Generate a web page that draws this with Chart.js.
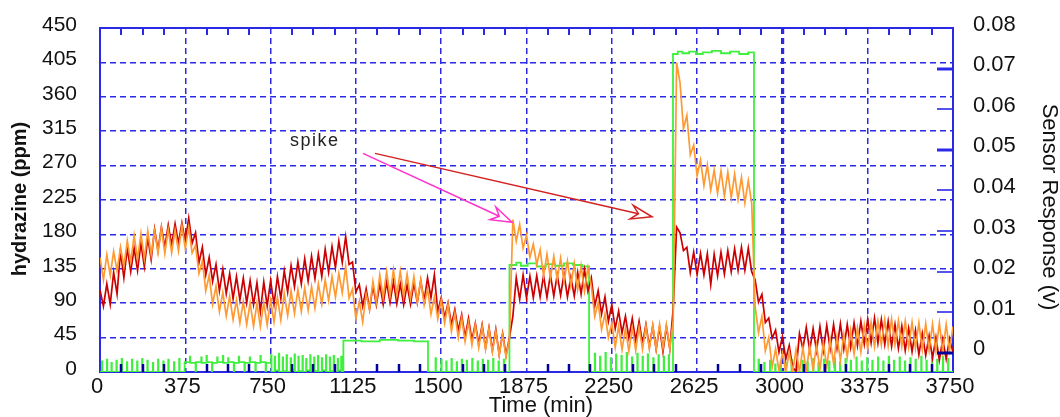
<!DOCTYPE html>
<html>
<head>
<meta charset="utf-8">
<script src="https://cdn.jsdelivr.net/npm/chart.js@4.4.1/dist/chart.umd.min.js"></script>
<style>
  html, body { margin: 0; padding: 0; background: #fff; }
  #wrap { width: 1060px; height: 417px; }
</style>
</head>
<body>
<div id="wrap"><canvas id="chart" width="1060" height="417"></canvas></div>
<script>
// sensor outputs are logged every 15 minutes, values in mV
const sampleStep = 15;

// red trace
const responseSensor1 = [
  15.5, 11.5, 17, 12, 19.8, 14.5, 25, 18.5, 25.8, 20,
  25.8, 20.3, 27, 21.2, 28.4, 23, 30.5, 25.2, 31, 26,
  31.5, 26.6, 31.8, 27, 32, 27.4, 33.2, 27, 29.6, 22.2,
  26, 19.2, 23.5, 17.6, 21.8, 15.3, 20.6, 14.6, 19.5, 13.3,
  18.8, 13, 18.4, 12.3, 17.8, 11.9, 17.3, 10.2, 17.5, 11.6,
  17.8, 12, 18.8, 13.4, 20.2, 15, 21.5, 16.3, 22.4, 17,
  23.2, 17.7, 23.8, 18.3, 24.3, 18.8, 25.5, 19.9, 26.2, 21,
  27.5, 22.3, 28.6, 21.8, 22.4, 15, 16.8, 11.5, 15.8, 10.8,
  16.5, 11.8, 17, 12, 17.5, 12.4, 17.6, 12.1, 17, 11.9,
  16.8, 12, 17.2, 12.4, 17.8, 12.8, 18.5, 13.6, 19.2, 10.2,
  13.6, 8.6, 12.3, 6.9, 10.7, 5.5, 9.4, 3.8, 8.5, 3.1,
  7.3, 2.2, 6.9, 1.2, 6.2, 0.6, 5.8, -0.4, 4.8, -0.6,
  3.8, 9, 18.5, 13.2, 19.2, 13.5, 18.9, 13.6, 19, 13.8,
  19, 13.7, 19.3, 14, 19.2, 14.2, 19.4, 13.8, 18.7, 14,
  19.8, 14.5, 20.5, 15.2, 18.5, 11.5, 15.3, 9.6, 13.8, 7.8,
  11.8, 6, 10.3, 4.9, 9, 3.7, 8.5, 3, 7.8, 2.3,
  7, 1.5, 6.6, 0.9, 6.4, 0.3, 6.5, 1, 11, 31,
  29.6, 25.2, 26, 19.8, 24.8, 19.3, 24.5, 19.2, 24.4, 16.8,
  24.3, 19, 24.8, 19.4, 25.2, 20, 25.6, 20.3, 26, 20.4,
  25.8, 20, 18, 12.5, 14.4, 7.5, 8.6, 3.6, 5.6, 0.2,
  4, -1.5, 1.8, -3.6, -4.5, 4.8, 1, 6.3, 0.6, 6,
  0.5, 6.5, 0.6, 6.8, 1, 7, 1.1, 7.2, 1, 7,
  1.4, 7.4, 1.8, 7.8, 2.2, 8.3, 2.5, 8.6, 2.4, 8.2,
  2.1, 7.8, 1.6, 7, 1.1, 6.6, 0.6, 6, 0.3, 5.6,
  -0.4, 4.8, -0.6, 4.2, -1.3, 3.8, -1.8, 3.4, -1.5, 3.5, 0.2
];

// orange trace
const responseSensor2 = [
  23.5, 18, 24.2, 19.1, 25, 20.2, 26, 21.3, 27.6, 22.4,
  28.9, 23, 29.4, 23.2, 30, 24.1, 30.1, 24.6, 30.8, 24.5,
  30.4, 24.7, 30.2, 25.1, 31.3, 25.6, 30.9, 24.6, 26.5, 19.6,
  22.6, 15.3, 19.1, 12, 16.4, 10.2, 14.9, 9.1, 13.9, 8.2,
  13, 7.4, 12.6, 7, 12.3, 6.6, 12.2, 6.5, 12.4, 6.9,
  12.9, 7.6, 13.7, 8.1, 14.6, 9.2, 15.2, 9.7, 15.6, 10.2,
  16, 10.5, 16.3, 11, 17, 12, 18, 12.9, 18.8, 13.7,
  19.6, 14.8, 21.3, 13.5, 15.7, 8.4, 12.7, 7.6, 14.5, 10.7,
  17.6, 12.4, 19.2, 13.6, 20, 14, 20.5, 14.3, 20.2, 13.9,
  19.4, 13.4, 18.8, 12.6, 18, 11.8, 15.8, 9.5, 13.8, 8.4,
  13, 7.3, 11.9, 5.3, 9.8, 3.8, 8.6, 2.8, 7.5, 1.9,
  6.9, 1.3, 6.5, 0.9, 6, 0.2, 5.4, -0.6, 4.6, -1.1,
  3.5, 32.8, 27.5, 31.6, 25.8, 29, 23.5, 26.8, 21.8, 25.4,
  19, 24.3, 18.4, 23.8, 18, 23.4, 17.6, 22.6, 16.5, 22,
  15.6, 21.4, 15.2, 21, 16.5, 9, 12.4, 5.8, 9.6, 3.8,
  7.3, 1.4, 6.6, 0.8, 6, 0.4, 6.2, 0.6, 6.4, 0.9,
  6.6, 1, 6.8, 0.9, 7, 1.2, 6.9, 1, 8, 71.5,
  66.5, 55.2, 58.5, 48.8, 51.2, 43.6, 47.5, 41.2, 46.3, 40.1,
  45, 39.3, 44.8, 38.6, 44.5, 38.2, 44, 37.8, 43.2, 36.9,
  42.4, 36.8, 11.5, 5, 9, 0.5, 3.8, -3.5, 1, -4.5,
  0, -4.7, 0.2, -4.7, 0.8, -4.7, 1.3, -4.5, 1.7, -4.2,
  2, -4.1, 2.5, -3.4, 3.2, -2.6, 4, -1.8, 4.6, -1,
  5.6, -0.3, 6.1, 0.2, 6.8, 1, 7.5, 1.5, 7.8, 2,
  8.2, 1.8, 8.3, 2, 7.9, 1.6, 7.8, 1.4, 7.5, 1.2,
  7.4, 0.8, 7.2, 0.7, 7.1, 0.5, 7.3, 0.4, 7, 0.6, 6.5
];

// hydrazine feed: [minute, ppm] change points, held until the next one
const hydrazineSteps = [
  [0, 0], [8, 14], [10, 0], [30, 16], [32, 0], [50, 12], [52, 0], [72, 15], [74, 0],
  [95, 17], [97, 0], [118, 13], [120, 0], [140, 16], [142, 0], [163, 14], [165, 0],
  [185, 17], [187, 0], [208, 15], [210, 0], [232, 12], [234, 0], [255, 16], [257, 0],
  [278, 14], [280, 0], [300, 16], [302, 0], [325, 13], [327, 0], [348, 17], [350, 0],
  [372, 13], [395, 20], [397, 12], [420, 0], [422, 13], [445, 19], [447, 12], [468, 21],
  [470, 13], [492, 0], [494, 12], [515, 19], [517, 13], [540, 21], [542, 12], [563, 18],
  [565, 13], [588, 0], [590, 12], [610, 20], [612, 13], [635, 0], [637, 12], [658, 19],
  [660, 13], [683, 0], [685, 12], [705, 21], [707, 13], [728, 0], [730, 12],
  [752, 22], [754, 0], [768, 20], [770, 2], [786, 24], [788, 0], [803, 19], [805, 1],
  [820, 22], [822, 0], [838, 18], [840, 3], [855, 23], [857, 0], [872, 20], [874, 1],
  [890, 21], [892, 0], [906, 17], [908, 2], [924, 22], [926, 0], [941, 19], [943, 1],
  [958, 21], [960, 0], [975, 18], [977, 2], [993, 22], [995, 0], [1010, 19], [1012, 1],
  [1027, 21], [1029, 0], [1045, 17], [1047, 2], [1060, 20], [1062, 0],
  [1070, 41], [1150, 40], [1230, 42], [1310, 41], [1380, 40], [1442, 0],
  [1475, 18], [1477, 0], [1500, 16], [1502, 0], [1522, 14], [1524, 0], [1545, 17], [1547, 0],
  [1568, 13], [1570, 0], [1590, 16], [1592, 0], [1612, 15], [1614, 0], [1636, 17], [1638, 0],
  [1660, 14], [1662, 0], [1682, 16], [1684, 0], [1705, 15], [1707, 0], [1728, 17], [1730, 0],
  [1752, 14], [1754, 0], [1775, 16], [1777, 0],
  [1800, 140], [1830, 143], [1850, 139], [1880, 142], [1920, 138], [1960, 141], [2000, 139],
  [2040, 142], [2080, 140], [2120, 138], [2150, 0],
  [2175, 24], [2177, 0], [2198, 20], [2200, 0], [2222, 25], [2224, 0], [2245, 18], [2247, 0],
  [2268, 23], [2270, 0], [2292, 21], [2294, 0], [2315, 25], [2317, 0], [2338, 19], [2340, 0],
  [2362, 24], [2364, 0], [2385, 20], [2387, 0], [2408, 23], [2410, 0], [2432, 18], [2434, 0],
  [2455, 22], [2457, 0], [2478, 20], [2480, 0], [2500, 22], [2502, 0],
  [2519, 416], [2540, 419], [2560, 417], [2590, 419], [2620, 416], [2650, 418], [2690, 420],
  [2730, 417], [2770, 419], [2810, 416], [2850, 418], [2875, 0],
  [2895, 16], [2897, 0], [2920, 12], [2922, 0], [2945, 15], [2947, 0], [2968, 10], [2970, 0],
  [2992, 14], [2994, 0], [3015, 12], [3017, 0], [3040, 16], [3042, 0], [3062, 11], [3064, 0],
  [3088, 15], [3090, 0], [3110, 13], [3112, 0], [3135, 17], [3137, 0], [3158, 12], [3160, 0],
  [3182, 16], [3184, 0], [3205, 14], [3207, 0], [3230, 18], [3232, 0], [3253, 13], [3255, 0],
  [3277, 17], [3279, 0], [3300, 15], [3302, 0], [3325, 19], [3327, 0], [3348, 14], [3350, 0],
  [3372, 18], [3374, 0], [3395, 15], [3397, 0], [3420, 19], [3422, 0], [3443, 14], [3445, 0],
  [3467, 20], [3469, 0], [3490, 15], [3492, 0], [3515, 19], [3517, 0], [3538, 14], [3540, 0],
  [3562, 18], [3564, 0], [3585, 16], [3587, 0], [3610, 20], [3612, 0], [3633, 15], [3635, 0],
  [3657, 19], [3659, 0], [3680, 16], [3682, 0], [3705, 20], [3707, 0], [3728, 17], [3730, 0],
  [3750, 0]
];

const timeTicks = [0, 375, 750, 1125, 1500, 1875, 2250, 2625, 3000, 3375, 3750];
const ppmTicks = [0, 45, 90, 135, 180, 225, 270, 315, 360, 405, 450];
const responseTicks = [0, 10, 20, 30, 40, 50, 60, 70, 80]; // mV, labelled in volts

// "spike" note and its two arrows, in (minute, ppm)
const spikeNote = { t: 835, ppm: 302, text: 'spike' };
const spikeArrows = [
  { from: [1156, 286], to: [1811, 196], color: '#ff33cc' },
  { from: [1209, 286], to: [2427, 203], color: '#d42020' }
];

const FONT = 'Liberation Sans, Arial, sans-serif';
const BLUE = '#2a2ae6';

function arrow(ctx, x0, y0, x1, y1, color) {
  const a = Math.atan2(y1 - y0, x1 - x0);
  const c = Math.cos(a), s = Math.sin(a);
  const bx = x1 - 21 * c, by = y1 - 21 * s;
  const nx = x1 - 14 * c, ny = y1 - 14 * s;
  ctx.strokeStyle = color;
  ctx.lineWidth = 1.5;
  ctx.beginPath();
  ctx.moveTo(x0, y0);
  ctx.lineTo(nx, ny);
  ctx.stroke();
  ctx.beginPath();
  ctx.moveTo(x1, y1);
  ctx.lineTo(bx - 7 * s, by + 7 * c);
  ctx.lineTo(nx, ny);
  ctx.lineTo(bx + 7 * s, by - 7 * c);
  ctx.closePath();
  ctx.fillStyle = '#fff';
  ctx.fill();
  ctx.stroke();
}

function seg(ctx, x0, y0, x1, y1) {
  ctx.beginPath();
  ctx.moveTo(x0, y0);
  ctx.lineTo(x1, y1);
  ctx.stroke();
}

// keep the plot box fixed: no extra room for half-labels at the ends
function noEdgePadding(s) {
  s.paddingTop = 0;
  s.paddingBottom = 0;
  s.paddingLeft = 0;
  s.paddingRight = 0;
}

const plotDecor = {
  id: 'plotDecor',
  beforeDatasetsDraw(chart) {
    const { ctx, chartArea: a } = chart;
    ctx.save();
    ctx.strokeStyle = BLUE;
    ctx.lineWidth = 2;
    ctx.strokeRect(a.left, a.top, a.right - a.left, a.bottom - a.top);
    ctx.restore();
  },
  afterDatasetsDraw(chart) {
    const { ctx, chartArea: a, scales } = chart;
    const x = scales.x, y = scales.y, y1 = scales.y1;
    ctx.save();
    // minor time ticks, top and bottom edges
    for (let t = 375 / 4; t < 3750; t += 375 / 4) {
      if (t % 375 === 0) continue;
      const px = Math.round(x.getPixelForValue(t));
      ctx.strokeStyle = BLUE;
      ctx.lineWidth = 2;
      seg(ctx, px, a.top, px, a.top + 7);
      ctx.strokeStyle = '#00009a';
      ctx.lineWidth = 2.5;
      seg(ctx, px, a.bottom, px, a.bottom - 8);
    }
    // response axis ticks on the right edge
    responseTicks.forEach(v => {
      const py = Math.round(y1.getPixelForValue(v));
      ctx.strokeStyle = v === 0 ? '#00009a' : BLUE;
      ctx.lineWidth = (v === 70 || v === 50 || v === 0) ? 3 : 1.6;
      seg(ctx, a.right - 16, py, a.right, py);
    });
    // spike annotation
    spikeArrows.forEach(ar => {
      arrow(ctx,
        x.getPixelForValue(ar.from[0]), y.getPixelForValue(ar.from[1]),
        x.getPixelForValue(ar.to[0]), y.getPixelForValue(ar.to[1]), ar.color);
    });
    ctx.fillStyle = '#222';
    ctx.font = '18px ' + FONT;
    ctx.letterSpacing = '1.5px';
    ctx.textAlign = 'left';
    ctx.textBaseline = 'middle';
    ctx.fillText(spikeNote.text, x.getPixelForValue(spikeNote.t), y.getPixelForValue(spikeNote.ppm));
    ctx.restore();
  },
  afterDraw(chart) {
    const { ctx } = chart;
    ctx.save();
    ctx.fillStyle = '#111';
    ctx.textAlign = 'center';
    ctx.textBaseline = 'middle';
    ctx.font = '22px ' + FONT;
    ctx.fillText('Time (min)', 541, 406);

    ctx.save();
    ctx.translate(20, 199);
    ctx.rotate(-Math.PI / 2);
    ctx.font = 'bold 20px ' + FONT;
    ctx.fillText('hydrazine (ppm)', 0, 0);
    ctx.restore();

    ctx.save();
    ctx.translate(1049, 207);
    ctx.rotate(Math.PI / 2);
    ctx.font = '22px ' + FONT;
    ctx.fillText('Sensor Response (v)', 0, 0);
    ctx.restore();
    ctx.restore();
  }
};

const toPoints = arr => arr.map((v, i) => ({ x: i * sampleStep, y: v }));

new Chart(document.getElementById('chart'), {
  type: 'line',
  data: {
    datasets: [
      {
        label: 'Sensor 2',
        data: toPoints(responseSensor2),
        yAxisID: 'y1',
        borderColor: '#ff9a33',
        borderWidth: 1.7,
        pointRadius: 0,
        order: 1
      },
      {
        label: 'Sensor 1',
        data: toPoints(responseSensor1),
        yAxisID: 'y1',
        borderColor: '#cc0000',
        borderWidth: 1.7,
        pointRadius: 0,
        order: 2
      },
      {
        label: 'Hydrazine',
        data: hydrazineSteps.map(p => ({ x: p[0], y: p[1] })),
        yAxisID: 'y',
        stepped: true,
        borderColor: '#3ff03f',
        borderWidth: 1.8,
        pointRadius: 0,
        order: 3
      }
    ]
  },
  options: {
    responsive: false,
    animation: false,
    devicePixelRatio: 1,
    layout: { padding: { top: 28, left: 0, right: 0, bottom: 0 } },
    plugins: { legend: { display: false }, tooltip: { enabled: false } },
    scales: {
      x: {
        type: 'linear',
        min: 0,
        max: 3750,
        afterBuildTicks: s => { s.ticks = timeTicks.map(v => ({ value: v })); },
        afterFit: s => { s.height = 45; noEdgePadding(s); },
        ticks: {
          font: { family: FONT, size: 22 },
          color: '#111',
          padding: 2,
          labelOffset: -3,
          maxRotation: 0,
          autoSkip: false,
          callback: v => String(v)
        },
        grid: {
          color: BLUE,
          lineWidth: c => (c.tick && c.tick.value === 3000 ? 3.2 : 1.5),
          drawTicks: false
        },
        border: { display: false, dash: [6, 4] }
      },
      y: {
        position: 'left',
        min: 0,
        max: 450,
        afterBuildTicks: s => { s.ticks = ppmTicks.map(v => ({ value: v })); },
        afterFit: s => { s.width = 100; noEdgePadding(s); },
        ticks: {
          font: { family: FONT, size: 21 },
          color: '#111',
          padding: 23,
          labelOffset: -3,
          callback: v => String(v)
        },
        grid: { color: BLUE, lineWidth: 1.5, drawTicks: false },
        border: { display: false, dash: [6, 4] }
      },
      y1: {
        position: 'right',
        min: -4.7,
        max: 80,
        afterBuildTicks: s => { s.ticks = responseTicks.map(v => ({ value: v })); },
        afterFit: s => { s.width = 107; noEdgePadding(s); },
        ticks: {
          font: { family: FONT, size: 22 },
          color: '#111',
          padding: 20,
          labelOffset: -3.5,
          callback: v => (v === 0 ? '0' : (v / 1000).toFixed(2))
        },
        grid: { display: false, drawTicks: false },
        border: { display: false }
      }
    }
  },
  plugins: [plotDecor]
});
</script>
</body>
</html>
